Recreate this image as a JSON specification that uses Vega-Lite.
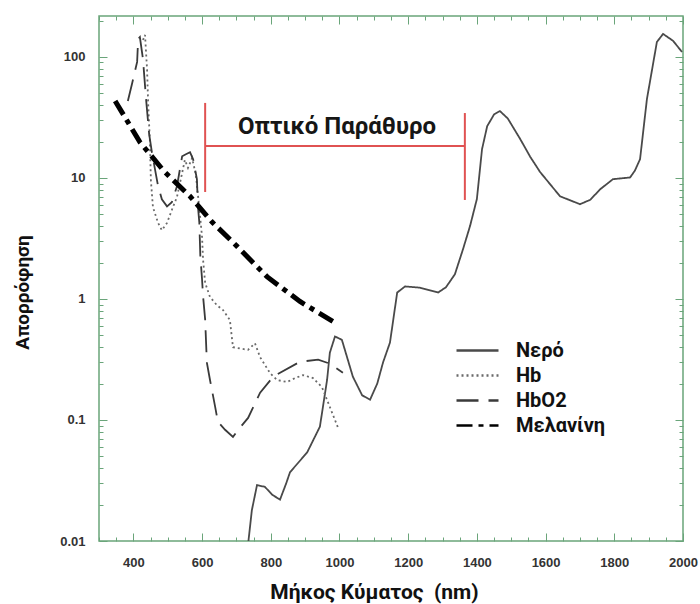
{
  "$schema": "https://vega.github.io/schema/vega-lite/v6.json",
  "width": 584,
  "height": 525,
  "autosize": {"type": "none"},
  "padding": {"left": 99, "top": 16, "right": 17, "bottom": 63},
  "background": "white",
  "config": {
    "view": {"stroke": "#6aa57a", "strokeWidth": 1.5},
    "axis": {"domain": false, "grid": false, "tickColor": "#6aa57a", "tickWidth": 1, "labelFont": "Liberation Sans", "labelFontWeight": "bold", "labelFontSize": 13, "labelColor": "#333333"}
  },
  "datasets": {
    "curves": [
      {"series": "Νερό", "wl": 735, "v": 0.01},
      {"series": "Νερό", "wl": 745, "v": 0.018},
      {"series": "Νερό", "wl": 760, "v": 0.029},
      {"series": "Νερό", "wl": 783, "v": 0.028},
      {"series": "Νερό", "wl": 805, "v": 0.024},
      {"series": "Νερό", "wl": 827, "v": 0.022},
      {"series": "Νερό", "wl": 845, "v": 0.03},
      {"series": "Νερό", "wl": 856, "v": 0.037},
      {"series": "Νερό", "wl": 906, "v": 0.054},
      {"series": "Νερό", "wl": 943, "v": 0.088},
      {"series": "Νερό", "wl": 964, "v": 0.215},
      {"series": "Νερό", "wl": 972, "v": 0.36},
      {"series": "Νερό", "wl": 987, "v": 0.49},
      {"series": "Νερό", "wl": 1007, "v": 0.46},
      {"series": "Νερό", "wl": 1039, "v": 0.228},
      {"series": "Νερό", "wl": 1066, "v": 0.16},
      {"series": "Νερό", "wl": 1089, "v": 0.147},
      {"series": "Νερό", "wl": 1110, "v": 0.2},
      {"series": "Νερό", "wl": 1127, "v": 0.3},
      {"series": "Νερό", "wl": 1147, "v": 0.436},
      {"series": "Νερό", "wl": 1168, "v": 1.13},
      {"series": "Νερό", "wl": 1191, "v": 1.27},
      {"series": "Νερό", "wl": 1234, "v": 1.24},
      {"series": "Νερό", "wl": 1287, "v": 1.13},
      {"series": "Νερό", "wl": 1310, "v": 1.25},
      {"series": "Νερό", "wl": 1336, "v": 1.6},
      {"series": "Νερό", "wl": 1360, "v": 2.6},
      {"series": "Νερό", "wl": 1380, "v": 4.0},
      {"series": "Νερό", "wl": 1400, "v": 6.7},
      {"series": "Νερό", "wl": 1415, "v": 17.3},
      {"series": "Νερό", "wl": 1430, "v": 26.8},
      {"series": "Νερό", "wl": 1450, "v": 33.5},
      {"series": "Νερό", "wl": 1467, "v": 35.7},
      {"series": "Νερό", "wl": 1490, "v": 31},
      {"series": "Νερό", "wl": 1526, "v": 21},
      {"series": "Νερό", "wl": 1555, "v": 15},
      {"series": "Νερό", "wl": 1584, "v": 11.2},
      {"series": "Νερό", "wl": 1642, "v": 7.06},
      {"series": "Νερό", "wl": 1700, "v": 6.07},
      {"series": "Νερό", "wl": 1730, "v": 6.6},
      {"series": "Νερό", "wl": 1759, "v": 8.07},
      {"series": "Νερό", "wl": 1796, "v": 9.77},
      {"series": "Νερό", "wl": 1846, "v": 10.1},
      {"series": "Νερό", "wl": 1860, "v": 11.5},
      {"series": "Νερό", "wl": 1875, "v": 14.3},
      {"series": "Νερό", "wl": 1895, "v": 44.9},
      {"series": "Νερό", "wl": 1924, "v": 133},
      {"series": "Νερό", "wl": 1942, "v": 155},
      {"series": "Νερό", "wl": 1971, "v": 136},
      {"series": "Νερό", "wl": 1997, "v": 110},
      {"series": "Hb", "wl": 428, "v": 138},
      {"series": "Hb", "wl": 434, "v": 152},
      {"series": "Hb", "wl": 440, "v": 78},
      {"series": "Hb", "wl": 443, "v": 41.7},
      {"series": "Hb", "wl": 448, "v": 20.6},
      {"series": "Hb", "wl": 451, "v": 9.6},
      {"series": "Hb", "wl": 457, "v": 5.75},
      {"series": "Hb", "wl": 472, "v": 4.25},
      {"series": "Hb", "wl": 483, "v": 3.7},
      {"series": "Hb", "wl": 498, "v": 4.25},
      {"series": "Hb", "wl": 512, "v": 5.44},
      {"series": "Hb", "wl": 527, "v": 6.97},
      {"series": "Hb", "wl": 542, "v": 11},
      {"series": "Hb", "wl": 550, "v": 14.1},
      {"series": "Hb", "wl": 559, "v": 12.1},
      {"series": "Hb", "wl": 571, "v": 14.6},
      {"series": "Hb", "wl": 582, "v": 10.6},
      {"series": "Hb", "wl": 591, "v": 6},
      {"series": "Hb", "wl": 600, "v": 3.25},
      {"series": "Hb", "wl": 603, "v": 2.1},
      {"series": "Hb", "wl": 609, "v": 1.36},
      {"series": "Hb", "wl": 623, "v": 1.04},
      {"series": "Hb", "wl": 643, "v": 0.89},
      {"series": "Hb", "wl": 661, "v": 0.81},
      {"series": "Hb", "wl": 681, "v": 0.67},
      {"series": "Hb", "wl": 690, "v": 0.4},
      {"series": "Hb", "wl": 710, "v": 0.39},
      {"series": "Hb", "wl": 734, "v": 0.38},
      {"series": "Hb", "wl": 754, "v": 0.43},
      {"series": "Hb", "wl": 769, "v": 0.33},
      {"series": "Hb", "wl": 798, "v": 0.244},
      {"series": "Hb", "wl": 818, "v": 0.214},
      {"series": "Hb", "wl": 847, "v": 0.206},
      {"series": "Hb", "wl": 871, "v": 0.222},
      {"series": "Hb", "wl": 894, "v": 0.235},
      {"series": "Hb", "wl": 923, "v": 0.222},
      {"series": "Hb", "wl": 949, "v": 0.187},
      {"series": "Hb", "wl": 972, "v": 0.128},
      {"series": "Hb", "wl": 996, "v": 0.086},
      {"series": "HbO2", "wl": 384, "v": 43.3},
      {"series": "HbO2", "wl": 396, "v": 59.7},
      {"series": "HbO2", "wl": 411, "v": 91},
      {"series": "HbO2", "wl": 414, "v": 141},
      {"series": "HbO2", "wl": 419, "v": 146},
      {"series": "HbO2", "wl": 428, "v": 96},
      {"series": "HbO2", "wl": 437, "v": 44.9},
      {"series": "HbO2", "wl": 446, "v": 23},
      {"series": "HbO2", "wl": 454, "v": 16.3},
      {"series": "HbO2", "wl": 472, "v": 8.55},
      {"series": "HbO2", "wl": 483, "v": 6.67},
      {"series": "HbO2", "wl": 498, "v": 5.83},
      {"series": "HbO2", "wl": 512, "v": 6.3},
      {"series": "HbO2", "wl": 527, "v": 8.55},
      {"series": "HbO2", "wl": 542, "v": 15.1},
      {"series": "HbO2", "wl": 553, "v": 15.7},
      {"series": "HbO2", "wl": 565, "v": 16.3},
      {"series": "HbO2", "wl": 574, "v": 14.3},
      {"series": "HbO2", "wl": 585, "v": 9.77},
      {"series": "HbO2", "wl": 588, "v": 5.83},
      {"series": "HbO2", "wl": 592, "v": 4.3},
      {"series": "HbO2", "wl": 595, "v": 2.25},
      {"series": "HbO2", "wl": 600, "v": 1.45},
      {"series": "HbO2", "wl": 603, "v": 1.05},
      {"series": "HbO2", "wl": 609, "v": 0.676},
      {"series": "HbO2", "wl": 614, "v": 0.298},
      {"series": "HbO2", "wl": 623, "v": 0.215},
      {"series": "HbO2", "wl": 638, "v": 0.129},
      {"series": "HbO2", "wl": 646, "v": 0.097},
      {"series": "HbO2", "wl": 667, "v": 0.083},
      {"series": "HbO2", "wl": 690, "v": 0.0726},
      {"series": "HbO2", "wl": 710, "v": 0.086},
      {"series": "HbO2", "wl": 734, "v": 0.104},
      {"series": "HbO2", "wl": 769, "v": 0.168},
      {"series": "HbO2", "wl": 807, "v": 0.228},
      {"series": "HbO2", "wl": 885, "v": 0.303},
      {"series": "HbO2", "wl": 938, "v": 0.315},
      {"series": "HbO2", "wl": 972, "v": 0.292},
      {"series": "HbO2", "wl": 1010, "v": 0.246},
      {"series": "Μελανίνη", "wl": 347, "v": 43.3},
      {"series": "Μελανίνη", "wl": 419, "v": 19.8},
      {"series": "Μελανίνη", "wl": 490, "v": 11.3},
      {"series": "Μελανίνη", "wl": 565, "v": 7.06},
      {"series": "Μελανίνη", "wl": 630, "v": 4.3},
      {"series": "Μελανίνη", "wl": 702, "v": 2.72},
      {"series": "Μελανίνη", "wl": 789, "v": 1.53},
      {"series": "Μελανίνη", "wl": 885, "v": 0.953},
      {"series": "Μελανίνη", "wl": 981, "v": 0.652}
    ],
    "bracket": [
      {"xa": 609, "xb": 1365, "ya": 18.4, "yb": 18.4},
      {"xa": 609, "xb": 609, "ya": 7.66, "yb": 41.7},
      {"xa": 1365, "xb": 1365, "ya": 6.58, "yb": 34.4}
    ],
    "label": [
      {"wl": 993, "v": 26.4, "text": "Οπτικό Παράθυρο"}
    ]
  },
  "resolve": {"scale": {"x": "shared", "y": "shared"}, "axis": {"x": "independent", "y": "independent"}},
  "layer": [
    {
      "data": {"name": "curves"},
      "mark": {"type": "line", "clip": true, "strokeCap": "butt"},
      "encoding": {
        "x": {
          "field": "wl", "type": "quantitative",
          "scale": {"domain": [300, 2000], "nice": false, "zero": false},
          "axis": {
            "orient": "bottom",
            "values": [300,350,400,450,500,550,600,650,700,750,800,850,900,950,1000,1050,1100,1150,1200,1250,1300,1350,1400,1450,1500,1550,1600,1650,1700,1750,1800,1850,1900,1950,2000],
            "labelExpr": "datum.value % 200 == 0 && datum.value >= 400 ? format(datum.value, 'd') : ''",
            "tickSize": {"condition": {"test": "datum.value % 200 == 0", "value": -8}, "value": -4},
            "labelPadding": 23,
            "labelFlush": false,
            "labelOverlap": false,
            "title": "Μήκος Κύματος\u00a0\u00a0(nm)",
            "titleFont": "Roboto", "titleFontSize": 21, "titleFontWeight": "bold", "titleColor": "#111111",
            "titleX": 275, "titleY": 51, "titleBaseline": "middle", "titleAnchor": null, "titleAlign": "center"
          }
        },
        "y": {
          "field": "v", "type": "quantitative",
          "scale": {"type": "log", "domain": [0.01, 218], "nice": false},
          "axis": {
            "orient": "left",
            "values": [0.01,0.02,0.03,0.04,0.05,0.06,0.07,0.08,0.09,0.1,0.2,0.3,0.4,0.5,0.6,0.7,0.8,0.9,1,2,3,4,5,6,7,8,9,10,20,30,40,50,60,70,80,90,100,200],
            "labelExpr": "indexof([0.01,0.1,1,10,100], datum.value) >= 0 ? format(datum.value, '~g') : ''",
            "tickSize": {"condition": {"test": "indexof([0.01,0.1,1,10,100], datum.value) >= 0", "value": -8}, "value": -4},
            "labelPadding": 22,
            "labelOverlap": false,
            "labelFlush": false,
            "title": "Απορρόφηση",
            "titleFont": "Roboto", "titleFontSize": 19, "titleFontWeight": "bold", "titleColor": "#111111",
            "titleX": -77, "titleY": 276, "titleBaseline": "middle", "titleAlign": "center", "titleAngle": 270
          }
        },
        "color": {
          "field": "series", "type": "nominal",
          "scale": {"domain": ["Νερό", "Hb", "HbO2", "Μελανίνη"], "range": ["#4a4a4a", "#6a6a6a", "#3a3a3a", "#000000"]},
          "legend": {
            "orient": "none", "legendX": 356, "legendY": 322, "title": null,
            "symbolType": "stroke", "symbolSize": 1764, "symbolStrokeWidth": 2.5,
            "labelFont": "Roboto", "labelFontSize": 20, "labelFontWeight": "bold", "labelColor": "#111111",
            "labelOffset": 16, "rowPadding": 0, "clipHeight": 25
          }
        },
        "strokeDash": {
          "field": "series", "type": "nominal",
          "scale": {"domain": ["Νερό", "Hb", "HbO2", "Μελανίνη"], "range": [[1, 0], [2, 3], [22, 10], [16, 6, 5, 6]]},
          "legend": {
            "orient": "none", "legendX": 356, "legendY": 322, "title": null,
            "symbolType": "stroke", "symbolSize": 1764, "symbolStrokeWidth": 2.5,
            "labelFont": "Roboto", "labelFontSize": 20, "labelFontWeight": "bold", "labelColor": "#111111",
            "labelOffset": 16, "rowPadding": 0, "clipHeight": 25
          }
        },
        "strokeWidth": {
          "condition": {"test": "datum.series == 'Μελανίνη'", "value": 5},
          "value": 1.8
        },
        "order": {"field": "wl", "type": "quantitative"}
      }
    },
    {
      "data": {"name": "bracket"},
      "mark": {"type": "rule", "color": "#e05252", "strokeWidth": 2},
      "encoding": {
        "x": {
          "field": "xa", "type": "quantitative",
          "scale": {"domain": [300, 2000], "nice": false, "zero": false},
          "axis": {
            "orient": "top",
            "values": [300,350,400,450,500,550,600,650,700,750,800,850,900,950,1000,1050,1100,1150,1200,1250,1300,1350,1400,1450,1500,1550,1600,1650,1700,1750,1800,1850,1900,1950,2000],
            "labels": false, "title": null,
            "tickSize": {"condition": {"test": "datum.value % 200 == 0", "value": -8}, "value": -4}
          }
        },
        "x2": {"field": "xb"},
        "y": {
          "field": "ya", "type": "quantitative",
          "scale": {"type": "log", "domain": [0.01, 218], "nice": false},
          "axis": {
            "orient": "right",
            "values": [0.01,0.02,0.03,0.04,0.05,0.06,0.07,0.08,0.09,0.1,0.2,0.3,0.4,0.5,0.6,0.7,0.8,0.9,1,2,3,4,5,6,7,8,9,10,20,30,40,50,60,70,80,90,100,200],
            "labels": false, "title": null,
            "tickSize": {"condition": {"test": "indexof([0.01,0.1,1,10,100], datum.value) >= 0", "value": -8}, "value": -4}
          }
        },
        "y2": {"field": "yb"}
      }
    },
    {
      "data": {"name": "label"},
      "mark": {"type": "text", "font": "Roboto", "fontSize": 24, "fontWeight": "bold", "color": "#161616", "align": "center", "baseline": "middle"},
      "encoding": {
        "x": {"field": "wl", "type": "quantitative", "axis": null},
        "y": {"field": "v", "type": "quantitative", "scale": {"type": "log"}, "axis": null},
        "text": {"field": "text"}
      }
    }
  ]
}
